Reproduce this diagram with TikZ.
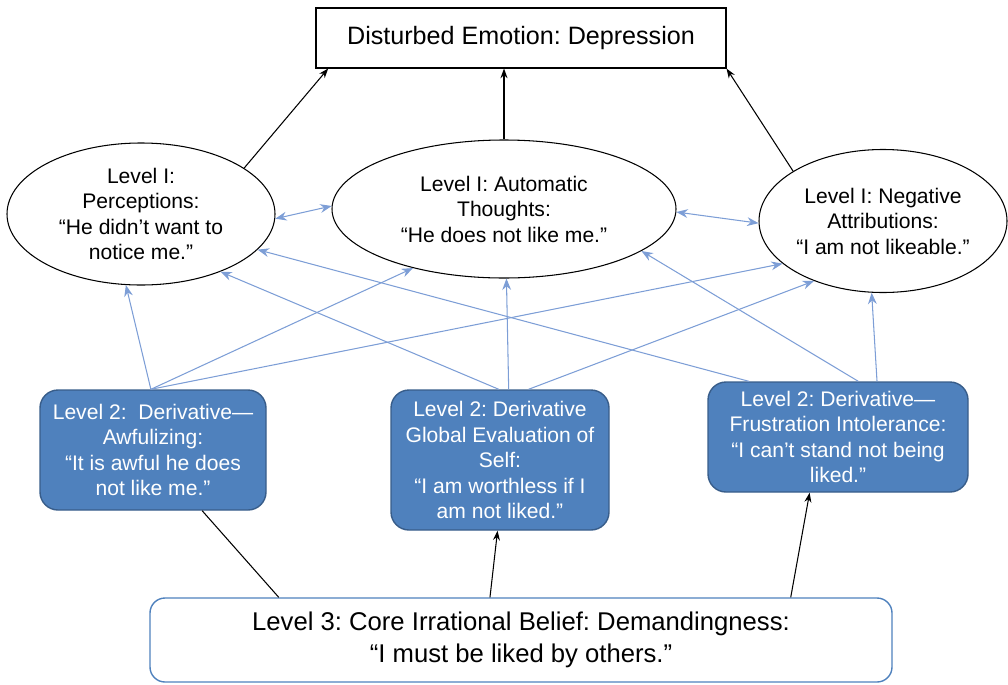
\documentclass[tikz,border=0pt]{standalone}
\usepackage{fontspec}
\setmainfont{Liberation Sans}
\frenchspacing
\definecolor{boxblue}{RGB}{79,129,189}
\definecolor{boxedge}{RGB}{56,93,138}
\definecolor{linkblue}{RGB}{125,158,214}
\usetikzlibrary{arrows.meta, shapes.geometric}

\begin{document}
\begin{tikzpicture}[
    txt/.style={font=\fontsize{12}{14.5}\selectfont, align=center},
    lvl/.style={ellipse, draw, line width=0.6pt, inner sep=0pt, txt},
    deriv/.style={draw=boxedge, fill=boxblue, line width=0.8pt, rounded corners=0.36cm, text=white, inner sep=0pt, txt},
    arr/.style={-{Stealth[length=5.5pt, width=4pt]}, line width=0.6pt},
    link/.style={-{Stealth[length=6.5pt, width=5pt]}, linkblue, line width=0.6pt},
    dlink/.style={link, {Stealth[length=6.5pt, width=5pt]}-{Stealth[length=6.5pt, width=5pt]}}
]
    \useasboundingbox (0, 0) rectangle (20.16, -13.68);

    \node[draw, line width=0.6pt, minimum width=8.2cm, minimum height=1.2cm, font=\fontsize{14.3}{17}\selectfont] (emotion) at (10.42, -0.76) {Disturbed Emotion: Depression};

    % Level I
    \node[lvl, minimum width=5.36cm, minimum height=2.84cm] (perc) at (2.82, -4.28) {Level I:\\Perceptions:\\“He didn’t want to\\notice me.”};
    \node[lvl, minimum width=6.88cm, minimum height=2.76cm] (auto) at (10.08, -4.18) {Level I: Automatic\\Thoughts:\\“He does not like me.”};
    \node[lvl, minimum width=4.96cm, minimum height=2.86cm] (attr) at (17.66, -4.42) {Level I: Negative\\Attributions:\\“I am not likeable.”};

    \draw[arr] (perc.24.6) -- (emotion.189);
    \draw[arr] (auto.north) -- (auto.north |- emotion.south);
    \draw[arr] (attr.151.7) -- (emotion.south east);

    \draw[dlink] (perc.-2) -- (auto.179);
    \draw[dlink] (auto.-1) -- (attr.181);

    % Level 2
    \node[deriv, minimum width=4.52cm, minimum height=2.4cm] (awful) at (3.06, -9.0) {Level 2:~ Derivative—\\Awfulizing:\\“It is awful he does\\not like me.”};
    \node[deriv, minimum width=4.36cm, minimum height=2.8cm] (global) at (10.0, -9.2) {Level 2: Derivative\\Global Evaluation of\\Self:\\“I am worthless if I\\am not liked.”};
    \node[deriv, minimum width=5.2cm, minimum height=2.2cm] (frust) at (16.76, -8.74) {Level 2: Derivative—\\Frustration Intolerance:\\“I can’t stand not being\\liked.”};

    \draw[link] (awful.92.9) -- (perc.-102);
    \draw[link] (awful.92.9) -- (auto.213.5);
    \draw[link] (awful.92.9) -- (attr.203);
    \draw[link] (global.91.6) -- (perc.-36.6);
    \draw[link] (global.83.5) -- (auto.-88);
    \draw[link] (global.68.9) -- (attr.221.5);
    \draw[link] (frust.148.6) -- (perc.-17.7);
    \draw[link] (frust.70.9) -- (auto.-17.1);
    \draw[link] (frust.55.3) -- (attr.-99);

    % Level 3
    \node[draw=boxblue, line width=0.8pt, rounded corners=0.3cm, minimum width=14.84cm, minimum height=1.68cm, align=center, font=\fontsize{14.6}{18.6}\selectfont] (core) at (10.42, -12.8) {Level 3: Core Irrational Belief: Demandingness:\\“I must be liked by others.”};

    \draw[line width=0.6pt] (core.170) -- (awful.-51.9);
    \draw[arr] (core.126.4) -- (global.-92.5);
    \draw[arr] (core.9.38) -- (frust.-117);
\end{tikzpicture}
\end{document}
